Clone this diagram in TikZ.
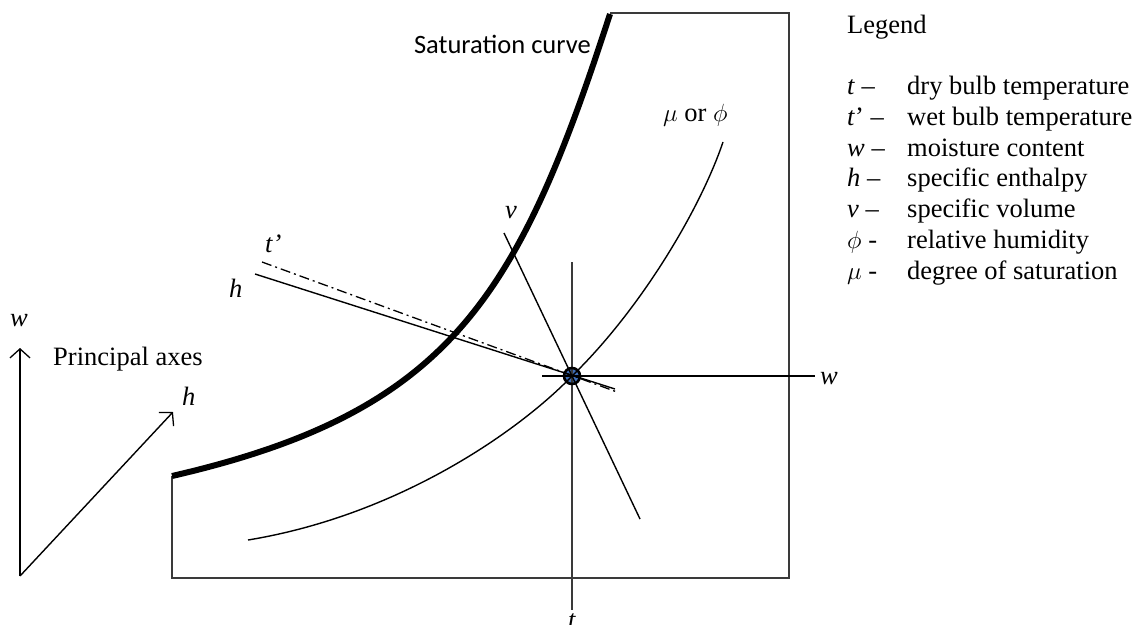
\documentclass[tikz,border=0pt]{standalone}
\usepackage{fontspec}
\setmainfont{Liberation Serif}
\newfontfamily\calibri{Carlito}
\usetikzlibrary{arrows.meta}
\definecolor{dotblue}{HTML}{3F6FB8}
\definecolor{boxgray}{HTML}{3A3A3A}
\tikzset{
  thinline/.style={line width=1.4pt, black},
  boxline/.style={line width=1.8pt, boxgray},
  satline/.style={line width=6pt, black},
  wetline/.style={line width=1.3pt, black, dash pattern=on 10pt off 4pt on 2pt off 4pt},
  axisarrow/.style={line width=1.4pt, black, -{Straight Barb[length=9pt,width=20pt,line width=1.3pt]}},
  lbl/.style={inner sep=0pt, font=\fontsize{26.5}{31}\selectfont},
  sanslbl/.style={inner sep=0pt, font=\calibri\fontsize{26.5}{31}\selectfont},
}
\begin{document}
\begin{tikzpicture}[x=1pt,y=-1pt]
\useasboundingbox (0,0) rectangle (1140,624);

% box
\coordinate (btl) at (610,13);
\coordinate (btr) at (789,13);
\coordinate (bbr) at (789,578);
\coordinate (bbl) at (172,578);
\coordinate (bsl) at (172,476);
\draw[boxline] (btl) -- (btr) -- (bbr) -- (bbl) -- (bsl);

% state point
\coordinate (P) at (572,376);
\node[circle, fill=dotblue, minimum size=16pt, inner sep=0pt] (dot) at (P) {};

% lines through the state point
\coordinate (ttop) at (572,262);
\coordinate (tbot) at (572,610);
\draw[line width=1.5pt, boxgray] (ttop) -- (tbot);
\coordinate (wl) at (542,376);
\coordinate (wr) at (815,376);
\draw[thinline] (wl) -- (wr);
\coordinate (vtop) at (504,233);
\coordinate (vbot) at (640,519);
\draw[thinline] (vtop) -- (vbot);
\coordinate (hl) at (255,274);
\coordinate (hr) at (615,389);
\draw[thinline] (hl) -- (hr);
\coordinate (tpl) at (262,262);
\coordinate (tpr) at (617,392);
\draw[wetline] (tpl) -- (tpr);
\draw[line width=2.6pt, black] (dot.center) circle[radius=8pt];

% mu / phi curve
\coordinate (ms) at (248,540);
\coordinate (me) at (723,142);
\draw[thinline] (ms) .. controls (400,515) and (520,430) .. (P)
  .. controls (640,310) and (700,210) .. (me);

% saturation curve
\coordinate (ss) at (172,476);
\coordinate (se) at (610,14);
\draw[satline] (ss) .. controls (450,412) and (518,298) .. (se);

% labels
\node[sanslbl, anchor=base east] (satlbl) at (591,53) {Saturation curve};
\node[lbl, anchor=base west] (mulbl) at (663,121) {$\mu$ or $\phi$};
\node[lbl, anchor=base] (vlbl) at (511,218) {\textit{v}};
\node[lbl, anchor=base west] (tplbl) at (265,252) {\textit{t’}};
\node[lbl, anchor=base west] (hlbl) at (229,297) {\textit{h}};
\node[lbl, anchor=base west] (wlbl) at (820,384) {\textit{w}};
\node[lbl, anchor=base] (tlbl) at (572,628) {\textit{t}};

% principal axes
\coordinate (O) at (20,576);
\coordinate (wtip) at (20,348);
\coordinate (htip) at (173,412);
\draw[axisarrow] (O) -- (wtip);
\draw[axisarrow] (O) -- (htip);
\node[lbl, anchor=base] (awlbl) at (19,326) {\textit{w}};
\node[lbl, anchor=base west] (ahlbl) at (182,405) {\textit{h}};
\node[lbl, anchor=base west] (pa) at (53,365) {Principal axes};

% legend
\node[lbl, anchor=base west] (leg) at (847,33) {Legend};
\foreach \s/\d [count=\i from 0] in {
  {\textit{t} –}/{dry bulb temperature},
  {\textit{t}’ –}/{wet bulb temperature},
  {\textit{w} –}/{moisture content},
  {\textit{h} –}/{specific enthalpy},
  {\textit{v} –}/{specific volume},
  {$\phi$ -}/{relative humidity},
  {$\mu$ -}/{degree of saturation}}{
  \node[lbl, anchor=base west] (ls\i) at (847,{94.5+30.8*\i}) {\s};
  \node[lbl, anchor=base west] (ld\i) at (907,{94.5+30.8*\i}) {\d};
}
\end{tikzpicture}
\end{document}
